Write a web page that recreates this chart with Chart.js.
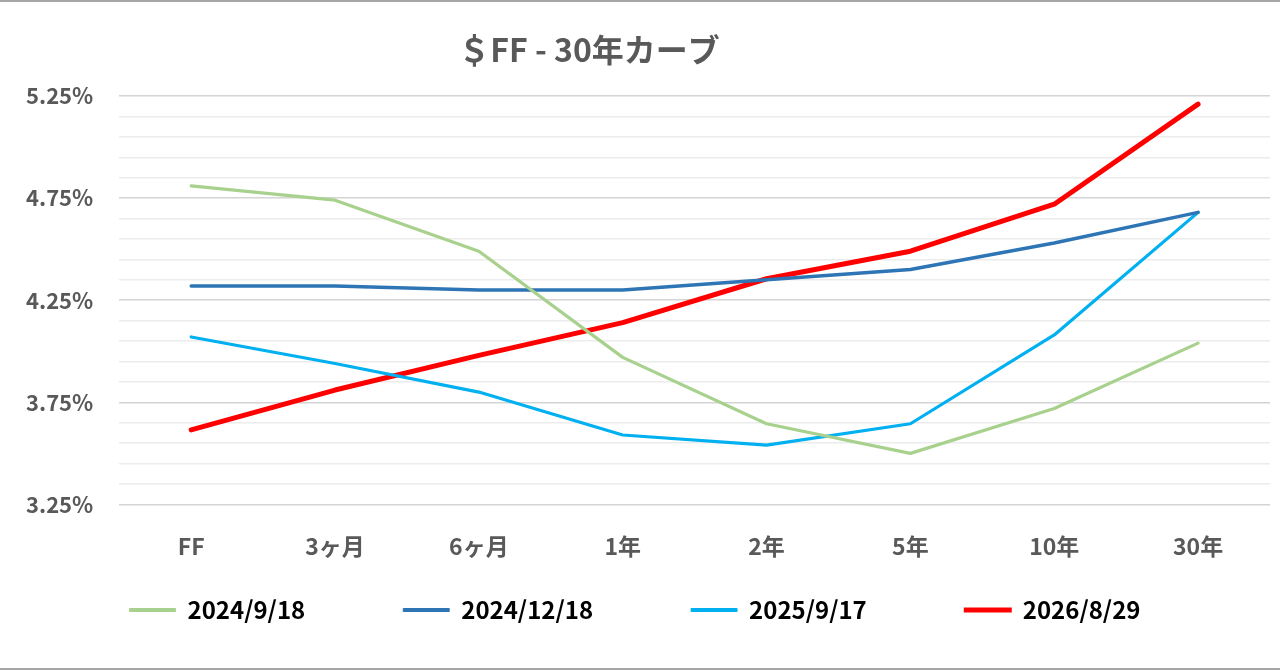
<!DOCTYPE html>
<html>
<head>
<meta charset="utf-8">
<script src="https://cdn.jsdelivr.net/npm/chart.js@4.4.1/dist/chart.umd.min.js"></script>
<style>
  html, body { margin: 0; padding: 0; background: #fff; }
  #wrap { width: 1280px; height: 670px; box-sizing: border-box; border-top: 2px solid #a6a6a6; border-bottom: 2px solid #a6a6a6; }
  canvas { display: block; }
</style>
</head>
<body>
<div id="wrap"><canvas id="curva" width="1280" height="666"></canvas></div>
<script>
// 年限
const kikan = ['FF', '3ヶ月', '6ヶ月', '1年', '2年', '5年', '10年', '30年'];

// 各日付の利回り (%)
const r20240918 = [4.81, 4.74, 4.49, 3.97, 3.645, 3.50, 3.72, 4.04];
const r20241218 = [4.32, 4.32, 4.30, 4.30, 4.35, 4.40, 4.53, 4.68];
const r20250917 = [4.07, 3.94, 3.80, 3.59, 3.54, 3.645, 4.08, 4.68];
const r20260829 = [3.615, 3.81, 3.98, 4.14, 4.355, 4.49, 4.72, 5.21];

const hiduke = ['2024/9/18', '2024/12/18', '2025/9/17', '2026/8/29'];

// 目盛り (0.1%刻み、ラベルは0.5%ごと)
const yTicks = [3.25, 3.35, 3.45, 3.55, 3.65, 3.75, 3.85, 3.95, 4.05, 4.15, 4.25,
                4.35, 4.45, 4.55, 4.65, 4.75, 4.85, 4.95, 5.05, 5.15, 5.25];
const yLabels = ['3.25%', '3.75%', '4.25%', '4.75%', '5.25%'];

const titulo = '＄FF - 30年カーブ';

const fonte = '"Noto Sans CJK JP", "Noto Sans", sans-serif';
const cinza = '#595959';

Chart.defaults.font.family = fonte;
Chart.defaults.font.weight = 'bold';
Chart.defaults.color = cinza;

// タイトルは少し左寄り
const tituloPlugin = {
  id: 'tituloPlugin',
  afterDraw(chart) {
    const ctx = chart.ctx;
    ctx.save();
    ctx.font = 'bold 32px ' + fonte;
    ctx.fillStyle = cinza;
    ctx.textAlign = 'center';
    ctx.textBaseline = 'middle';
    ctx.fillText(titulo, 589, 48);
    ctx.restore();
  }
};

const espaco = '\u2003\u2003\u2003\u2004';

new Chart(document.getElementById('curva'), {
  type: 'line',
  data: {
    labels: kikan,
    datasets: [
      { label: hiduke[0], data: r20240918, borderColor: '#A9D18E', backgroundColor: '#A9D18E', borderWidth: 3.2 },
      { label: hiduke[1], data: r20241218, borderColor: '#2E75B6', backgroundColor: '#2E75B6', borderWidth: 3.5 },
      { label: hiduke[2], data: r20250917, borderColor: '#00B0F0', backgroundColor: '#00B0F0', borderWidth: 3.2 },
      { label: hiduke[3], data: r20260829, borderColor: '#FF0000', backgroundColor: '#FF0000', borderWidth: 5 }
    ]
  },
  options: {
    responsive: false,
    animation: false,
    layout: { padding: { top: 94, left: 0, right: 10, bottom: 36 } },
    elements: {
      point: { radius: 0 },
      line: { tension: 0, borderCapStyle: 'round', borderJoinStyle: 'round' }
    },
    scales: {
      x: {
        offset: true,
        grid: { display: false },
        border: { display: false },
        ticks: { padding: 20, font: { size: 23 }, color: cinza }
      },
      y: {
        min: 3.25,
        max: 5.25,
        afterBuildTicks(scale) {
          scale.ticks = yTicks.map(v => ({ value: v }));
        },
        grid: {
          drawTicks: false,
          lineWidth: 1.5,
          color: c => (c.index % 5 === 0 ? '#d4d4d4' : '#ececec')
        },
        border: { display: false },
        ticks: {
          padding: 26,
          font: { size: 22 },
          color: cinza,
          autoSkip: false,
          callback: (v, i) => (i % 5 === 0 ? yLabels[i / 5] : '')
        }
      }
    },
    plugins: {
      title: { display: false },
      tooltip: { enabled: false },
      legend: {
        position: 'bottom',
        labels: {
          boxWidth: 46,
          boxHeight: 3,
          padding: 18,
          font: { size: 24 },
          color: cinza,
          generateLabels(chart) {
            return chart.data.datasets.map((ds, i) => ({
              text: i < chart.data.datasets.length - 1 ? ds.label + espaco : ds.label,
              fillStyle: ds.borderColor,
              strokeStyle: ds.borderColor,
              lineWidth: i === 3 ? 2 : 1,
              datasetIndex: i
            }));
          }
        }
      }
    }
  },
  plugins: [tituloPlugin]
});
</script>
</body>
</html>
